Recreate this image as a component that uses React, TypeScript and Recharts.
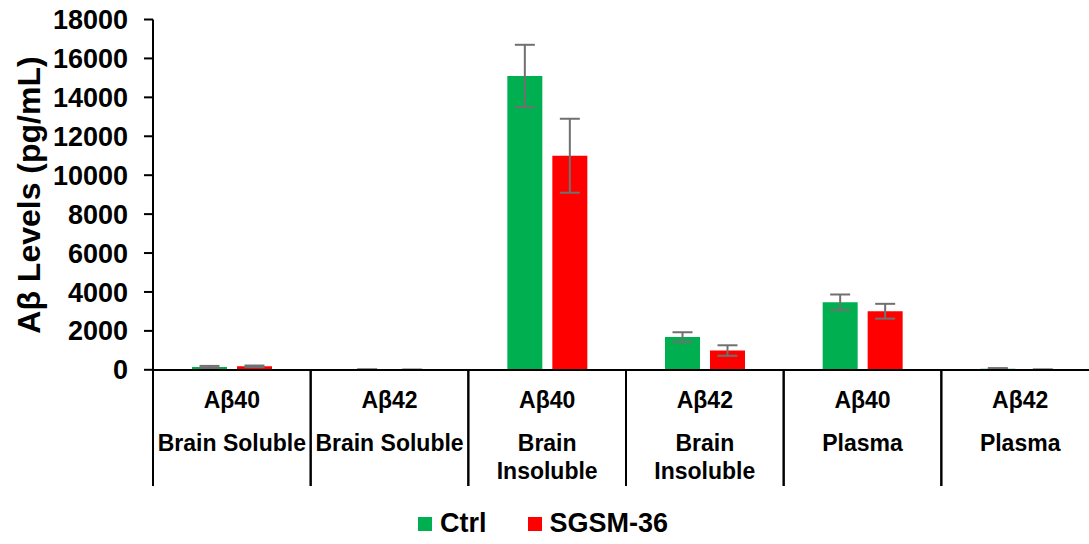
import React from "react";
import { Bar, BarChart, ErrorBar, XAxis, YAxis } from "recharts";

const analytes = ["Aβ40", "Aβ42", "Aβ40", "Aβ42", "Aβ40", "Aβ42"];
const fractions = ["Brain Soluble", "Brain Soluble", "Brain\nInsoluble", "Brain\nInsoluble", "Plasma", "Plasma"];
const ctrlValues = [150, 10, 15100, 1680, 3470, 60];
const ctrlErrors = [50, 20, 1600, 250, 400, 30];
const sgsmValues = [180, 5, 11000, 990, 3010, 10];
const sgsmErrors = [40, 5, 1900, 270, 380, 10];
const yTicks = [0, 2000, 4000, 6000, 8000, 10000, 12000, 14000, 16000, 18000];
const seriesNames = ["Ctrl", "SGSM-36"];
const seriesColors = ["#00B050", "#FF0000"];

const data = analytes.map((a, i) => ({
  key: `${i}`,
  analyte: a,
  fraction: fractions[i],
  ctrl: ctrlValues[i],
  ctrlErr: ctrlErrors[i],
  sgsm: sgsmValues[i],
  sgsmErr: sgsmErrors[i],
}));

const FONT = "'Liberation Sans', Arial, sans-serif";

function CategoryTick(props: any) {
  const { x, y, payload } = props;
  const d = data[payload.index] ?? data[Number(payload.value)];
  const half = payload.offset ?? 946 / 12;
  const lines = d.fraction.split("\n");
  return (
    <g>
      <line x1={x - half} x2={x - half} y1={y} y2={y + 116} stroke="#000" strokeWidth={2} />
      <line x1={x + half} x2={x + half} y1={y} y2={y + 116} stroke="#000" strokeWidth={2} />
      <text x={x} y={y + 38} textAnchor="middle" fontSize={23} fontWeight="bold" fontFamily={FONT} fill="#000">
        {d.analyte}
      </text>
      {lines.map((l: string, j: number) => (
        <text key={j} x={x} y={y + 81 + j * 28} textAnchor="middle" fontSize={23} fontWeight="bold" fontFamily={FONT} fill="#000">
          {l}
        </text>
      ))}
    </g>
  );
}

export default function App() {
  return (
    <div style={{ position: "fixed", left: 0, top: 0, width: 1089, height: 544, overflow: "hidden", background: "#fff" }}>
      <BarChart
        width={1100}
        height={544}
        data={data}
        margin={{ top: 19.5, right: 1, left: 0, bottom: 0 }}
        barSize={35}
        barGap={10}
      >
        <XAxis
          dataKey="key"
          height={174}
          tickLine={false}
          tickSize={0}
          tickMargin={0}
          axisLine={{ stroke: "#000", strokeWidth: 2 }}
          tick={<CategoryTick />}
          interval={0}
        />
        <YAxis
          width={153}
          domain={[0, 18000]}
          ticks={yTicks}
          interval={0}
          tickSize={9}
          tickMargin={16}
          axisLine={{ stroke: "#000", strokeWidth: 2 }}
          tickLine={{ stroke: "#000", strokeWidth: 2 }}
          tick={{ fontSize: 27, fontWeight: "bold", fontFamily: FONT, fill: "#000" }}
          label={{
            content: () => (
              <text
                x={29}
                y={195}
                transform="rotate(-90 29 195)"
                textAnchor="middle"
                dominantBaseline="central"
                fontSize={32}
                fontWeight="bold"
                fontFamily={FONT}
                fill="#000"
              >
                Aβ Levels (pg/mL)
              </text>
            ),
          }}
        />
        <Bar dataKey="ctrl" name={seriesNames[0]} fill={seriesColors[0]} isAnimationActive={false}>
          <ErrorBar dataKey="ctrlErr" width={10} stroke="#707070" strokeWidth={2} />
        </Bar>
        <Bar dataKey="sgsm" name={seriesNames[1]} fill={seriesColors[1]} isAnimationActive={false}>
          <ErrorBar dataKey="sgsmErr" width={10} stroke="#707070" strokeWidth={2} />
        </Bar>
      </BarChart>
      <div
        style={{
          position: "absolute",
          left: 418,
          top: 508,
          display: "flex",
          alignItems: "center",
          fontFamily: FONT,
          fontWeight: "bold",
          fontSize: 27,
          color: "#000",
        }}
      >
        {seriesNames.map((n, i) => (
          <div key={n} style={{ display: "flex", alignItems: "center", marginRight: 41 }}>
            <span style={{ width: 14, height: 14, background: seriesColors[i], marginRight: 8 }} />
            <span>{n}</span>
          </div>
        ))}
      </div>
    </div>
  );
}
